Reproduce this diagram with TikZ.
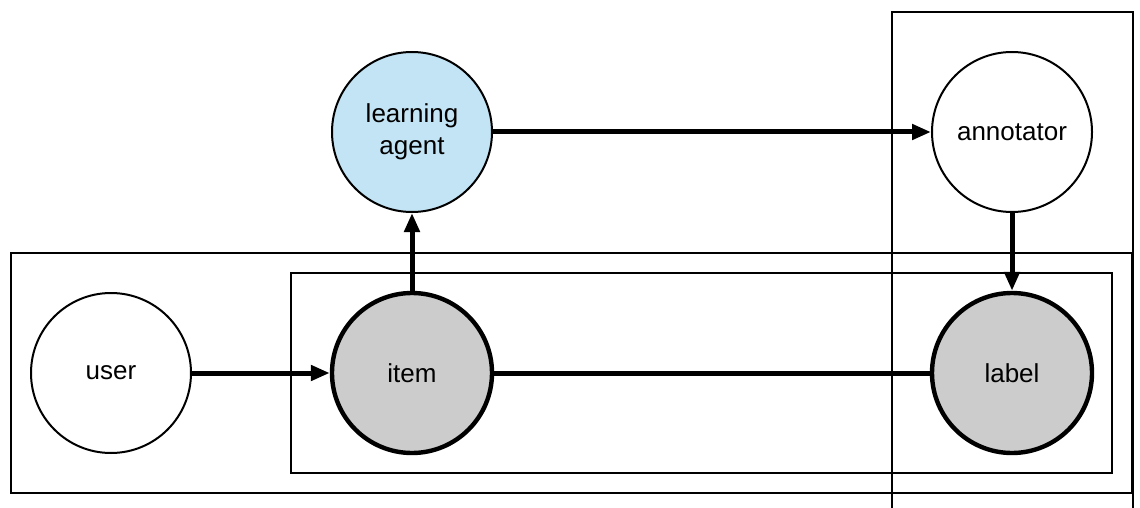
\documentclass[tikz,border=0pt]{standalone}
\usepackage{fontspec}
\setmainfont{Liberation Sans}
\usetikzlibrary{arrows.meta}
\definecolor{obsgray}{HTML}{CCCCCC}
\definecolor{agentblue}{HTML}{C3E4F5}
\tikzset{
  var/.style={circle, draw=black, line width=1pt, minimum size=80pt, inner sep=0pt,
    align=center, font=\fontsize{13pt}{15.8pt}\selectfont},
  observed/.style={var, fill=obsgray, line width=2.2pt},
  plate/.style={draw=black, line width=1pt},
  edge/.style={line width=2.5pt, -{Triangle[length=9.5pt,width=7.5pt]}},
  link/.style={line width=2.5pt}
}
\begin{document}
\begin{tikzpicture}[x=0.5pt, y=-0.5pt]
  \useasboundingbox (0,0) rectangle (1140,508);
  % plates
  \draw[plate] (11,253) rectangle (1132,493);
  \draw[plate, line width=0.8pt] (291,273) rectangle (1112,473);
  \draw[plate] (892,508) -- (892,12) -- (1133,12) -- (1133,508);
  % variables
  \node[var] (user) at (111,373) {user};
  \node[observed] (item) at (412,373) {item};
  \node[observed] (label) at (1012,373) {label};
  \node[var, fill=agentblue] (agent) at (412,132) {learning\\agent};
  \node[var] (annot) at (1012,132) {annotator};
  % dependencies
  \draw[edge] (user) -- (item);
  \draw[edge] (item) -- (agent);
  \draw[edge] (agent) -- (annot);
  \draw[edge] (annot) -- (label);
  \draw[link] (item) -- (label);
\end{tikzpicture}
\end{document}
